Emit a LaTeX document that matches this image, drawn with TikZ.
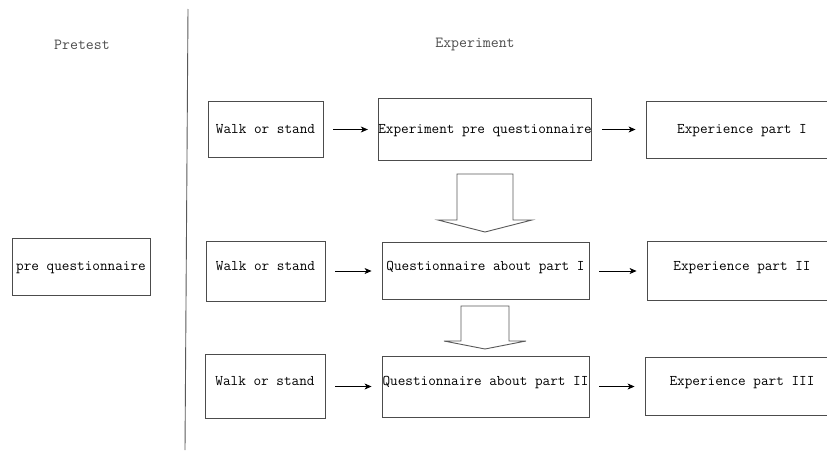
\documentclass[tikz,border=0pt]{standalone}
\usetikzlibrary{arrows.meta}
\tikzset{FlowBox/.style={rectangle,draw=black!70,line width=0.9pt,inner sep=0pt,text height=10pt,text depth=3pt,font=\ttfamily\fontsize{14.8}{16}\selectfont}}
\tikzset{RaisedText/.style={text depth=12pt}}
\tikzset{PhaseTitle/.style={text=black!70,font=\ttfamily\fontsize{15.4}{17}\selectfont}}
\tikzset{StepArrow/.style={->,line width=0.7pt,shorten <=10pt,shorten >=10pt}}
\tikzset{HollowArrow/.style={draw=black!65,line width=0.9pt,fill=white}}

\begin{document}
\begin{tikzpicture}[x=1pt,y=-1pt,>={Stealth[length=7pt,width=6pt,inset=2pt]}]
\useasboundingbox (0,0) rectangle (827,450);
\node (pretest) at (82,45) [PhaseTitle] {Pretest};
\node (experiment) at (475,45) [PhaseTitle] {Experiment};
\node (preq) at (81,266.5) [FlowBox,minimum width=138pt,minimum height=57pt] {pre questionnaire};
\node (walkA) at (265.5,129.5) [FlowBox,minimum width=115pt,minimum height=56pt] {Walk or stand};
\node (walkB) at (265.5,271) [FlowBox,RaisedText,minimum width=119pt,minimum height=60pt] {Walk or stand};
\node (walkC) at (265,386.5) [FlowBox,RaisedText,minimum width=120pt,minimum height=64pt] {Walk or stand};
\node (expq) at (485,129.5) [FlowBox,minimum width=204pt,minimum height=62pt] {Experiment pre questionnaire};
\node (qI) at (485.5,271) [FlowBox,RaisedText,minimum width=207pt,minimum height=57pt] {Questionnaire about part I};
\node (qII) at (485.5,386.5) [FlowBox,RaisedText,minimum width=207pt,minimum height=61pt] {Questionnaire about part II};
\node (expI) at (742,129.5) [FlowBox,minimum width=192pt,minimum height=57pt] {Experience part I};
\node (expII) at (742,271) [FlowBox,RaisedText,minimum width=190pt,minimum height=59pt] {Experience part II};
\node (expIII) at (742,386.5) [FlowBox,RaisedText,minimum width=194pt,minimum height=58pt] {Experience part III};
\draw [StepArrow] (walkA) -- (expq);
\draw [StepArrow] (expq) -- (expI);
\draw [StepArrow] (walkB) -- (qI);
\draw [StepArrow] (qI) -- (expII);
\draw [StepArrow] (walkC) -- (qII);
\draw [StepArrow] (qII) -- (expIII);
% divider between pretest and experiment
\draw [black!65,line width=0.9pt] (188,9) -- (185,450);
% hollow arrows down the experiment column
\draw [HollowArrow] (457,174) -- (513,174) -- (513,220) -- (532,220) -- (485,232) -- (438,220) -- (457,220) -- cycle;
\draw [HollowArrow] (461,306) -- (509,306) -- (509,341) -- (526,341) -- (485,349) -- (444,341) -- (461,341) -- cycle;
\end{tikzpicture}
\end{document}
